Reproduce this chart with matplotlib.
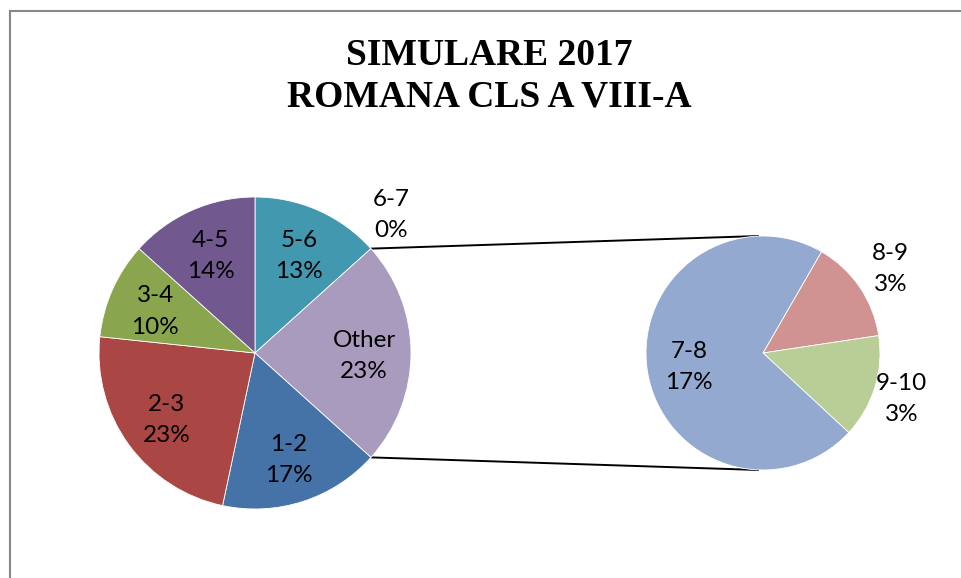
import numpy as np
import matplotlib
matplotlib.use("Agg")
import matplotlib.pyplot as plt
from matplotlib.lines import Line2D

# Data (counts, labels as shown)
main_labels = ["5-6", "Other", "1-2", "2-3", "3-4", "4-5"]
main_values = [4, 7, 5, 7, 3, 4]
main_pct = ["13%", "23%", "17%", "23%", "10%", "14%"]
main_colors = ["#4198AF", "#A99BBD", "#4572A7", "#AA4643", "#89A54E", "#71588F"]

sec_labels = ["8-9", "9-10", "7-8"]
sec_values = [1, 1, 5]
sec_pct = ["3%", "3%", "17%"]
sec_colors = ["#D19392", "#B9CD96", "#93A9CF"]

zero_label = "6-7"
zero_pct = "0%"

title = "SIMULARE 2017\nROMANA CLS A VIII-A"

W, H = 961, 578
fig = plt.figure(figsize=(W / 100, H / 100), dpi=100)
ax = fig.add_axes([0, 0, 1, 1])

label_font = dict(family="Lato", fontsize=17.5, color="black", ha="center", va="center",
                  linespacing=1.6)

main_c = (255, H - 353)
main_r = 156
sec_c = (763, H - 353)
sec_r = 117

wedges, _ = ax.pie(main_values, colors=main_colors, startangle=90, counterclock=False,
                   center=main_c, radius=main_r, frame=True,
                   wedgeprops=dict(edgecolor="white", linewidth=0.6))
for w, lab, pct in zip(wedges, main_labels, main_pct):
    mid = np.deg2rad((w.theta1 + w.theta2) / 2)
    d = 0.70 * main_r
    ax.text(main_c[0] + d * np.cos(mid), main_c[1] + d * np.sin(mid) - 3,
            lab + "\n" + pct, **label_font)

swedges, _ = ax.pie(sec_values, colors=sec_colors, startangle=60, counterclock=False,
                    center=sec_c, radius=sec_r, frame=True,
                    wedgeprops=dict(edgecolor="white", linewidth=0.6))
sec_dist = [1.32, 1.24, 0.64]
for w, lab, pct, dd in zip(swedges, sec_labels, sec_pct, sec_dist):
    mid = np.deg2rad((w.theta1 + w.theta2) / 2)
    d = dd * sec_r
    ax.text(sec_c[0] + d * np.cos(mid), sec_c[1] + d * np.sin(mid) - 3,
            lab + "\n" + pct, **label_font)

ax.set_xlim(0, W)
ax.set_ylim(0, H)
ax.set_aspect("equal")
ax.axis("off")

# connector lines from the "Other" wedge to the secondary pie
other = wedges[main_labels.index("Other")]
for ang, sy in [(other.theta2, 1), (other.theta1, -1)]:
    a = np.deg2rad(ang)
    x0 = main_c[0] + main_r * np.cos(a)
    y0 = main_c[1] + main_r * np.sin(a)
    ax.plot([x0, sec_c[0] - 4], [y0, sec_c[1] + sy * sec_r], color="black", lw=1.4,
            solid_capstyle="butt", zorder=0)
    if sy == 1:
        ax.text(x0 + 20, y0 + 34, zero_label + "\n" + zero_pct, **label_font)

fig.text(0.509, 1 - 76 / H, title, family="Liberation Serif", fontweight="bold",
         fontsize=27, ha="center", va="center", linespacing=1.25)

# chart border (only top and left edges are inside the picture)
fig.add_artist(Line2D([10 / W, 1], [1 - 10.5 / H, 1 - 10.5 / H], transform=fig.transFigure,
                      color="#878787", lw=1.5))
fig.add_artist(Line2D([10 / W, 10 / W], [0, 1 - 10.5 / H], transform=fig.transFigure,
                      color="#878787", lw=1.5))

fig.savefig("out.png", dpi=100)
